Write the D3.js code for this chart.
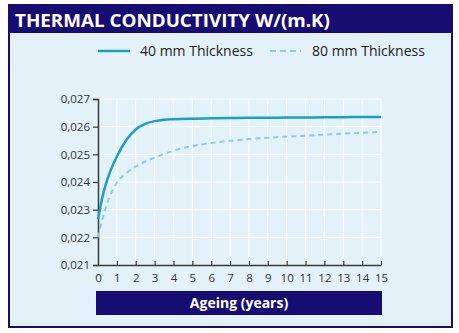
<!DOCTYPE html>
<html><head><meta charset="utf-8">
<script src="https://cdn.jsdelivr.net/npm/d3@7"></script>
<style>
html,body{margin:0;padding:0;background:#fff;}
svg{display:block;font-family:"Open Sans",sans-serif;}
</style></head>
<body>
<svg id="c" width="459" height="333"></svg>
<script>
const title = "THERMAL CONDUCTIVITY W/(m.K)";
const xLabel = "Ageing (years)";
const seriesNames = ["40 mm Thickness", "80 mm Thickness"];
const years = [0, 0.25, 0.5, 1, 1.5, 2, 2.5, 3, 3.5, 4, 5, 6, 7, 8, 9, 10, 11, 12, 13, 14, 15];
const thick40 = [0.02265, 0.02350, 0.02410, 0.02492, 0.02552, 0.02590, 0.02610, 0.02620, 0.02625, 0.02627, 0.02629, 0.02630, 0.02631, 0.02632, 0.02632, 0.02633, 0.02633, 0.02634, 0.02634, 0.02635, 0.02635];
const thick80 = [0.02200, 0.02270, 0.02325, 0.02398, 0.02432, 0.02456, 0.02474, 0.02488, 0.02501, 0.02513, 0.02530, 0.02541, 0.02549, 0.02555, 0.02560, 0.02564, 0.02567, 0.02571, 0.02575, 0.02578, 0.02581];
const xTicks = d3.range(0, 16);
const yTicks = [0.021, 0.022, 0.023, 0.024, 0.025, 0.026, 0.027];

const svg = d3.select("#c");
const navy = "#170c72";
// frame
svg.append("rect").attr("x", 9).attr("y", 5).attr("width", 443).attr("height", 322)
  .attr("fill", "#e3f1f9").attr("stroke", navy).attr("stroke-width", 2);
svg.append("rect").attr("x", 8).attr("y", 5).attr("width", 445).attr("height", 28).attr("fill", navy);
svg.append("text").attr("x", 15).attr("y", 26.5).attr("fill", "#fff")
  .attr("font-size", 18.5).attr("font-weight", "bold")
  .attr("textLength", 315).attr("lengthAdjust", "spacingAndGlyphs").text(title);

const x = d3.scaleLinear().domain([0, 15]).range([98, 381]);
const y = d3.scaleLinear().domain([0.021, 0.027]).range([265, 99]);

// grid
const g = svg.append("g");
g.selectAll(".vg").data(xTicks.slice(1)).join("line")
  .attr("x1", d => x(d)).attr("x2", d => x(d)).attr("y1", y(0.027)).attr("y2", y(0.021))
  .attr("stroke", "#fff").attr("stroke-width", 1);
g.selectAll(".hg").data(yTicks.slice(1)).join("line")
  .attr("x1", x(0)).attr("x2", x(15)).attr("y1", d => y(d)).attr("y2", d => y(d))
  .attr("stroke", "#fff").attr("stroke-width", 1);

// axes
const fmt = d => d3.format(".3f")(d).replace(".", ",");
const yAxis = svg.append("g").attr("transform", `translate(${x(0)},0)`)
  .call(d3.axisLeft(y).tickValues(yTicks).tickFormat(fmt).tickSize(5).tickSizeOuter(5).tickPadding(3));
const xAxis = svg.append("g").attr("transform", `translate(0,${y(0.021)})`)
  .call(d3.axisBottom(x).tickValues(xTicks).tickSize(-4).tickSizeOuter(0).tickPadding(9));
[yAxis, xAxis].forEach(a => {
  a.select(".domain").attr("stroke", "#3a3a3a").attr("stroke-width", 1.5);
  a.selectAll(".tick line").attr("stroke", "#3a3a3a").attr("stroke-width", 1.2);
  a.selectAll("text").attr("fill", "#333").attr("font-size", 11.5).attr("font-family", "Open Sans, sans-serif");
});
xAxis.selectAll(".tick").filter(d => d === 0).select("line").remove();

// lines
const line = d3.line().x((d, i) => x(years[i])).y(d => y(d)).curve(d3.curveMonotoneX);
svg.append("path").datum(thick80).attr("d", line).attr("fill", "none")
  .attr("stroke", "#8ccde3").attr("stroke-width", 2).attr("stroke-dasharray", "5,4");
svg.append("path").datum(thick40).attr("d", line).attr("fill", "none")
  .attr("stroke", "#1a9fc9").attr("stroke-width", 2.5);

// legend
svg.append("line").attr("x1", 98).attr("x2", 130).attr("y1", 51).attr("y2", 51)
  .attr("stroke", "#1a9fc9").attr("stroke-width", 2.5);
svg.append("text").attr("x", 140).attr("y", 56).attr("font-size", 14).attr("fill", "#222").text(seriesNames[0]);
svg.append("line").attr("x1", 270).attr("x2", 301).attr("y1", 51).attr("y2", 51)
  .attr("stroke", "#8ccde3").attr("stroke-width", 2).attr("stroke-dasharray", "6,4");
svg.append("text").attr("x", 312).attr("y", 56).attr("font-size", 14).attr("fill", "#222").text(seriesNames[1]);

// x label bar
svg.append("rect").attr("x", 96).attr("y", 291).attr("width", 286).attr("height", 24).attr("fill", navy);
svg.append("text").attr("x", 239).attr("y", 308).attr("text-anchor", "middle").attr("fill", "#fff")
  .attr("font-size", 14).attr("font-weight", "bold").text(xLabel);
</script>
</body></html>
